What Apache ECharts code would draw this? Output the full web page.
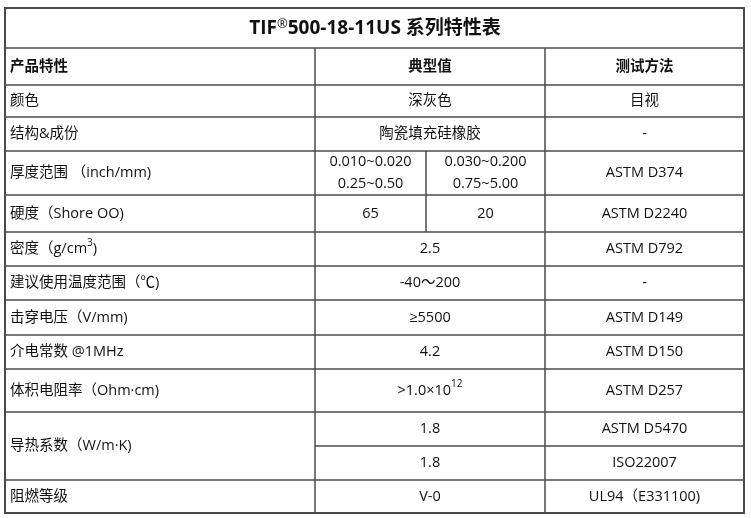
<!DOCTYPE html>
<html><head><meta charset="utf-8">
<script src="https://cdn.jsdelivr.net/npm/echarts@6/dist/echarts.min.js"></script>
<style>html,body{margin:0;background:#fff}#c{width:751px;height:518px}</style>
</head><body><div id="c"></div>
<script>
const title = 'TIF{reg|®}500-18-11US 系列特性表';
const headers = ['产品特性', '典型值', '测试方法'];
const properties = ['颜色', '结构&成份', '厚度范围 （inch/mm)', '硬度（Shore OO)', '密度（g/cm{sup|3})',
    '建议使用温度范围（℃)', '击穿电压（V/mm)', '介电常数 @1MHz', '体积电阻率（Ohm·cm)', '导热系数（W/m·K)', '阻燃等级'];
const values = [['深灰色'], ['陶瓷填充硅橡胶'], ['0.010~0.020\n0.25~0.50', '0.030~0.200\n0.75~5.00'], ['65', '20'], ['2.5'],
    ['-40～200'], ['≥5500'], ['4.2'], ['>1.0×10{sup|12}'], ['1.8', '1.8'], ['V-0']];
const methods = [['目视'], ['-'], ['ASTM D374'], ['ASTM D2240'], ['ASTM D792'], ['-'], ['ASTM D149'], ['ASTM D150'],
    ['ASTM D257'], ['ASTM D5470', 'ISO22007'], ['UL94（E331100)']];

// layout
const rowY = [85, 117, 151, 195, 232, 266, 300, 335, 369, 412, 480, 513];
const colX = [5, 315, 545, 744];
const splitX = 426, topY = 8, headY = 48, subY = 446;
const lineC = '#4a4a4a', font = '"Open Sans", "Noto Sans CJK SC", sans-serif';
const rich = {
    sup: {fontSize: 10, verticalAlign: 'top', padding: [0, 0, 9, 0], fontFamily: font, fill: '#111'},
    reg: {fontSize: 13, verticalAlign: 'top', padding: [0, 0, 10, 0], fontFamily: font, fill: '#111'}
};

const g = [];
const line = (x1, y1, x2, y2) => g.push({type: 'line', shape: {x1, y1, x2, y2}, style: {stroke: lineC, lineWidth: 1.5}});
const text = (t, x, y, align, bold, size) => g.push({type: 'text', x, y, style: {
    text: t, x: 0, y: 0, align, verticalAlign: 'middle', font: (bold ? 'bold ' : '') + (size || 14.5) + 'px ' + font,
    fill: '#111', lineHeight: 22, rich}});

g.push({type: 'rect', shape: {x: colX[0], y: topY, width: colX[3] - colX[0], height: rowY[11] - topY},
    style: {fill: 'none', stroke: lineC, lineWidth: 2}});
line(colX[0], headY, colX[3], headY);
rowY.slice(0, 11).forEach(y => line(colX[0], y, colX[3], y));
line(colX[1], headY, colX[1], rowY[11]);
line(colX[2], headY, colX[2], rowY[11]);
line(splitX, rowY[2], splitX, rowY[4]);
line(colX[1], subY, colX[3], subY);

text(title, 375, (topY + headY) / 2 + 1, 'center', true, 19);
text(headers[0], colX[0] + 5, (headY + rowY[0]) / 2, 'left', true);
text(headers[1], (colX[1] + colX[2]) / 2, (headY + rowY[0]) / 2, 'center', true);
text(headers[2], (colX[2] + colX[3]) / 2, (headY + rowY[0]) / 2, 'center', true);

properties.forEach((p, i) => {
    const y0 = rowY[i], y1 = rowY[i + 1], ym = (y0 + y1) / 2;
    text(p, colX[0] + 5, ym, 'left');
    const v = values[i], m = methods[i];
    if (v.length === 2 && m.length === 2) {
        [[y0, subY], [subY, y1]].forEach(([a, b], k) => {
            text(v[k], (colX[1] + colX[2]) / 2, (a + b) / 2, 'center');
            text(m[k], (colX[2] + colX[3]) / 2, (a + b) / 2, 'center');
        });
    } else {
        if (v.length === 2) {
            text(v[0], (colX[1] + splitX) / 2, ym, 'center');
            text(v[1], (splitX + colX[2]) / 2, ym, 'center');
        } else text(v[0], (colX[1] + colX[2]) / 2, ym, 'center');
        text(m[0], (colX[2] + colX[3]) / 2, ym, 'center');
    }
});

const chart = echarts.init(document.getElementById('c'));
chart.setOption({backgroundColor: '#fff', graphic: {elements: g}});
</script></body></html>
